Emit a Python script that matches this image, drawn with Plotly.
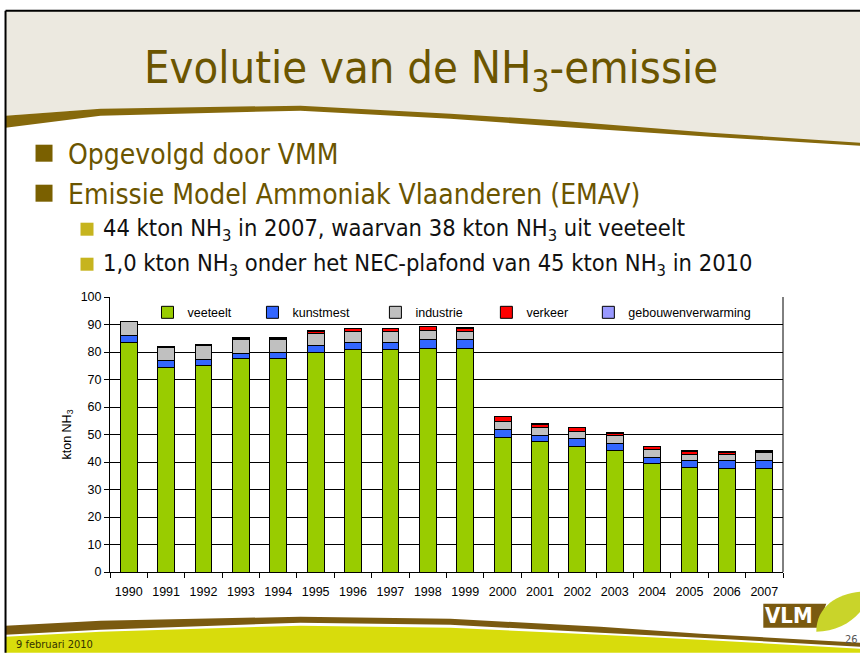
import plotly.graph_objects as go

years = [str(y) for y in range(1990, 2008)]
veeteelt = [83.6, 74.4, 75.0, 77.6, 77.6, 79.9, 80.8, 80.8, 81.3, 81.2, 48.9, 47.4, 45.8, 44.2, 39.3, 38.0, 37.7, 37.7]
kunstmest = [2.4, 2.4, 2.4, 1.8, 2.3, 2.6, 2.7, 2.7, 3.1, 3.3, 2.8, 2.1, 2.6, 2.6, 2.4, 2.6, 2.9, 2.9]
industrie = [5.1, 5.0, 5.1, 5.1, 4.6, 4.4, 4.1, 4.1, 3.6, 3.1, 3.1, 3.1, 2.6, 2.7, 2.7, 2.2, 2.3, 2.7]
verkeer = [0.0, 0.0, 0.0, 0.5, 0.5, 0.7, 0.9, 0.9, 1.2, 1.1, 1.8, 1.2, 1.6, 1.0, 1.1, 1.2, 0.7, 0.7]
gebouwenverwarming = [0.1] * 18

series = [
    ("veeteelt", veeteelt, "#99CC00"),
    ("kunstmest", kunstmest, "#3366FF"),
    ("industrie", industrie, "#C0C0C0"),
    ("verkeer", verkeer, "#FF0000"),
    ("gebouwenverwarming", gebouwenverwarming, "#9999FF"),
]

# plot area in page pixels
L, R, T, B = 109.5, 782.7, 297.3, 572.3
W, H = R - L, B - T


def px(x):
    return (x - L) / W


def py(y):
    return (B - y) / H


def poly(points):
    return "M " + " L ".join(f"{px(x):.5f},{py(y):.5f}" for x, y in points) + " Z"


legend_ids = ["legend", "legend2", "legend3", "legend4", "legend5"]
legend_text_x = [187, 292, 415, 526, 628]

fig = go.Figure()
for (name, vals, col), lid in zip(series, legend_ids):
    fig.add_trace(go.Bar(
        x=years, y=vals, name=name, legend=lid,
        marker=dict(color=col, line=dict(color="#000000", width=1)),
    ))

BROWN = "#6B5500"
shapes = []
# beige header
shapes.append(dict(type="path", xref="paper", yref="paper", layer="below",
                   path=poly([(5, 11), (860, 11), (860, 144), (710, 134), (560, 122), (450, 115),
                              (300, 107), (100, 109), (5, 116)]),
                   fillcolor="#ECE9E0", line=dict(width=0)))
# top swoosh
shapes.append(dict(type="path", xref="paper", yref="paper", layer="below",
                   path=poly([(5, 116), (100, 109), (300, 106), (450, 114), (560, 121), (710, 133), (860, 143),
                              (860, 146), (710, 137), (560, 127), (450, 119), (300, 111), (100, 116), (5, 128)]),
                   fillcolor="#86690C", line=dict(width=0)))
# bottom yellow
shapes.append(dict(type="path", xref="paper", yref="paper", layer="below",
                   path=poly([(5, 637), (100, 632), (300, 626), (450, 628), (600, 635), (700, 640), (860, 649),
                              (860, 653), (5, 653)]),
                   fillcolor="#D8DC0C", line=dict(width=0)))
# bottom swoosh
shapes.append(dict(type="path", xref="paper", yref="paper", layer="below",
                   path=poly([(5, 626), (100, 621), (300, 617), (450, 619), (600, 627), (700, 634), (860, 643),
                              (860, 647), (700, 638), (600, 633), (450, 625), (300, 623), (100, 630), (5, 635)]),
                   fillcolor="#7A5A10", line=dict(width=0)))
# frame lines
shapes.append(dict(type="line", xref="paper", yref="paper", x0=px(5), x1=px(860), y0=py(11), y1=py(11),
                   line=dict(color="#000000", width=2)))
shapes.append(dict(type="line", xref="paper", yref="paper", x0=px(5), x1=px(5), y0=py(11), y1=py(653),
                   line=dict(color="#000000", width=2)))
# bullets
for (x0, y0, s, c) in [(35, 145, 17, "#7A6000"), (35, 185, 17, "#7A6000"),
                       (80, 223, 13, "#C6B41E"), (80, 258, 13, "#C6B41E")]:
    shapes.append(dict(type="rect", xref="paper", yref="paper", x0=px(x0), x1=px(x0 + s),
                       y0=py(y0), y1=py(y0 + s), fillcolor=c, line=dict(width=0)))
# VLM logo
shapes.append(dict(type="path", xref="paper", yref="paper",
                   path=poly([(763, 604), (826, 604), (817, 628), (763, 628)]),
                   fillcolor="#7A5A10", line=dict(width=0)))
shapes.append(dict(type="path", xref="paper", yref="paper",
                   path=f"M {px(816):.5f},{py(632):.5f} C {px(816):.5f},{py(606):.5f} {px(838):.5f},{py(594):.5f} "
                        f"{px(860):.5f},{py(592):.5f} L {px(860):.5f},{py(612):.5f} C {px(850):.5f},{py(624):.5f} "
                        f"{px(834):.5f},{py(632):.5f} {px(816):.5f},{py(632):.5f} Z",
                   fillcolor="#C9D42A", line=dict(width=0)))

SLIDE_FONT = "Liberation Sans Narrow, DejaVu Sans Condensed, Roboto Condensed, Noto Sans, sans-serif"
annotations = [
    dict(text="Evolutie van de NH<sub>3</sub>-emissie", x=px(431), y=py(70), xanchor="center", yanchor="middle",
         font=dict(family=SLIDE_FONT, size=45, color=BROWN)),
    dict(text="Opgevolgd door VMM", x=px(66), y=py(155), xanchor="left", yanchor="middle",
         font=dict(family=SLIDE_FONT, size=28, color=BROWN)),
    dict(text="Emissie Model Ammoniak Vlaanderen (EMAV)", x=px(66), y=py(195), xanchor="left", yanchor="middle",
         font=dict(family=SLIDE_FONT, size=28, color=BROWN)),
    dict(text="44 kton NH<sub>3</sub> in 2007, waarvan 38 kton NH<sub>3</sub> uit veeteelt", x=px(101), y=py(230),
         xanchor="left", yanchor="middle", font=dict(family=SLIDE_FONT, size=23.5, color="#111111")),
    dict(text="1,0 kton NH<sub>3</sub> onder het NEC-plafond van 45 kton NH<sub>3</sub> in 2010", x=px(101), y=py(265),
         xanchor="left", yanchor="middle", font=dict(family=SLIDE_FONT, size=23.5, color="#111111")),
    dict(text="9 februari 2010", x=px(14), y=py(645), xanchor="left", yanchor="middle",
         font=dict(family=SLIDE_FONT, size=11, color="#333300")),
    dict(text="26", x=px(859), y=py(640), xanchor="right", yanchor="middle",
         font=dict(family=SLIDE_FONT, size=11, color="#555555")),
    dict(text="<b>VLM</b>", x=px(789), y=py(616), xanchor="center", yanchor="middle",
         font=dict(family=SLIDE_FONT, size=22, color="#FFFFFF")),
]
for a in annotations:
    a.update(xref="paper", yref="paper", showarrow=False, borderpad=0)

legend_layout = {}
for lid, tx in zip(legend_ids, legend_text_x):
    legend_layout[lid] = dict(orientation="h", x=px(tx - 40), y=py(298), xanchor="left", yanchor="top",
                              font=dict(size=12.5), bgcolor="rgba(0,0,0,0)", itemwidth=30)

fig.update_layout(
    barmode="stack",
    bargap=0.55,
    width=860, height=653, autosize=False,
    margin=dict(l=L, r=860 - R, t=T, b=653 - B, pad=0),
    paper_bgcolor="#FFFFFF",
    plot_bgcolor="rgba(0,0,0,0)",
    font=dict(family="Liberation Sans, Arial, sans-serif", size=12.5, color="#000000"),
    shapes=shapes,
    annotations=annotations,
    showlegend=True,
    xaxis=dict(type="category", showline=True, linecolor="#000000", linewidth=1,
               ticks="outside", tickson="boundaries", ticklen=5, tickcolor="#000000",
               ticklabelstandoff=8, showgrid=False, mirror=False),
    yaxis=dict(range=[0, 100], dtick=10, showline=True, linecolor="#000000", linewidth=1,
               ticks="outside", ticklen=5, tickcolor="#000000",
               showgrid=True, gridcolor="#000000", gridwidth=1,
               title=dict(text="kton NH<sub>3</sub>", font=dict(size=12.5), standoff=6)),
    **legend_layout,
)
# right border of plot area
fig.add_shape(type="line", xref="paper", yref="paper", x0=1, x1=1, y0=0, y1=1,
              line=dict(color="#000000", width=1))

fig.write_html("out.html", config={"displayModeBar": False},
               post_script="document.body.style.margin='0px';document.body.style.overflow='hidden';")
